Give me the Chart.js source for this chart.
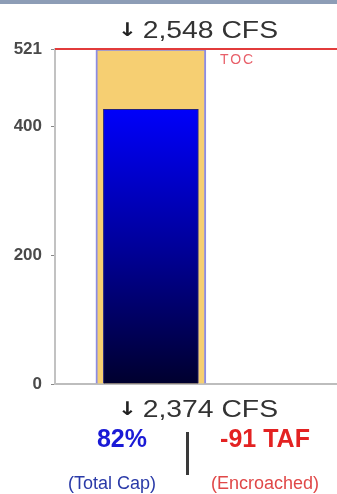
<!DOCTYPE html>
<html>
<head>
<meta charset="utf-8">
<script src="https://cdn.jsdelivr.net/npm/chart.js@4.4.1/dist/chart.umd.min.js"></script>
<style>
  html, body { margin: 0; padding: 0; background: #fff; }
  #wrap { position: relative; width: 337px; height: 494px; overflow: hidden; font-family: "Liberation Sans", Arial, sans-serif; }
  #topbar { position: absolute; left: 0; top: 0; width: 337px; height: 4px; background: #8d9db6; }
  #chartBox { position: absolute; left: 0; top: 0; width: 337px; height: 494px; }
  .flow { position: absolute; width: 300px; text-align: center; color: #333; font-size: 24px; white-space: nowrap; transform: scaleX(1.18); transform-origin: center; }
  .flow .arr { font-family: "DejaVu Sans", sans-serif; font-size: 19px; font-weight: bold; vertical-align: 2px; margin-right: 5px; color: #222; }
  .big { position: absolute; font-weight: bold; font-size: 25px; text-align: center; width: 140px; white-space: nowrap; }
  .small { position: absolute; font-size: 18px; text-align: center; width: 140px; white-space: nowrap; }
  #sep { position: absolute; left: 186px; top: 432px; width: 3px; height: 43px; background: #3a3a3a; }
</style>
</head>
<body>
<div id="wrap">
  <div id="chartBox"><canvas id="resChart"></canvas></div>
  <div id="topbar"></div>
  <div class="flow" id="flowTop" style="left:48px; top:16px;"></div>
  <div class="flow" id="flowBottom" style="left:48px; top:395px;"></div>
  <div class="big" id="pctCap" style="left:52px; top:424px; color:#1a1ad6;"></div>
  <div class="big" id="encroach" style="left:195px; top:424px; color:#e32222;"></div>
  <div id="sep"></div>
  <div class="small" id="pctLabel" style="left:42px; top:473px; color:#2a3aa8;"></div>
  <div class="small" id="encLabel" style="left:195px; top:473px; color:#e04848;"></div>
</div>
<script>
// ------------------------------
// Reservoir data
// ------------------------------
const capacity = [521];          // TAF, top of the yellow bar
const storage = [427];           // TAF, blue bar
const tocValue = 521;            // top of conservation line
const yTicks = [0, 200, 400, 521];
const inflowCfs = "2,548 CFS";
const outflowCfs = "2,374 CFS";
const pctLabel = "82%";
const pctCaption = "(Total Cap)";
const encroachLabel = "-91 TAF";
const encroachCaption = "(Encroached)";
const tocLabel = "TOC";

// bar sits left of centre on a 0..1 x scale
const BAR_POS = 0.34;
const OUTER_W = 110;

document.getElementById("flowTop").innerHTML = '<span class="arr">&#8595;</span>' + inflowCfs;
document.getElementById("flowBottom").innerHTML = '<span class="arr">&#8595;</span>' + outflowCfs;
document.getElementById("pctCap").textContent = pctLabel;
document.getElementById("pctLabel").textContent = pctCaption;
document.getElementById("encroach").textContent = encroachLabel;
document.getElementById("encLabel").textContent = encroachCaption;

// ------------------------------
// TOC line + label plugin
// ------------------------------
const tocPlugin = {
  id: "tocLine",
  afterDatasetsDraw(chart) {
    const { ctx, chartArea, scales } = chart;
    const y = scales.y.getPixelForValue(tocValue);
    ctx.save();
    ctx.strokeStyle = "#e23b3b";
    ctx.lineWidth = 2;
    ctx.beginPath();
    ctx.moveTo(chartArea.left, y);
    ctx.lineTo(chartArea.right, y);
    ctx.stroke();
    const barRight = scales.x.getPixelForValue(BAR_POS) + OUTER_W / 2;
    ctx.fillStyle = "#e8606a";
    ctx.font = "14px 'Liberation Sans', Arial, sans-serif";
    ctx.textBaseline = "top";
    ctx.letterSpacing = "2px";
    ctx.fillText(tocLabel, barRight + 14, y + 4);
    ctx.restore();
  }
};

function storageFill(context) {
  const chart = context.chart;
  const area = chart.chartArea;
  if (!area) return "#0000ff";
  const top = chart.scales.y.getPixelForValue(storage[0]);
  const g = chart.ctx.createLinearGradient(0, top, 0, area.bottom);
  g.addColorStop(0, "#0000fa");
  g.addColorStop(0.5, "#00009a");
  g.addColorStop(1, "#00002e");
  return g;
}

new Chart(document.getElementById("resChart"), {
  type: "bar",
  data: {
    datasets: [
      {
        label: "Storage",
        data: storage.map(v => ({ x: BAR_POS, y: v })),
        backgroundColor: storageFill,
        borderColor: "#23237a",
        borderWidth: 1,
        barThickness: 95,
        grouped: false,
        order: 1
      },
      {
        label: "Capacity",
        data: capacity.map(v => ({ x: BAR_POS, y: v })),
        backgroundColor: "#f6cf72",
        borderColor: "#8c8ce4",
        borderWidth: 2,
        barThickness: OUTER_W,
        grouped: false,
        order: 2
      }
    ]
  },
  options: {
    responsive: true,
    maintainAspectRatio: false,
    animation: false,
    layout: { padding: { top: 49, bottom: 102, left: 0, right: 0 } },
    plugins: { legend: { display: false }, tooltip: { enabled: false } },
    scales: {
      x: {
        type: "linear",
        min: 0,
        max: 1,
        offset: false,
        grid: { display: false },
        ticks: { display: false },
        border: { display: true, color: "#bdbdbd", width: 2 }
      },
      y: {
        min: 0,
        max: 521,
        afterBuildTicks: (scale) => { scale.ticks = yTicks.map(v => ({ value: v })); },
        afterFit: (scale) => { scale.width = 55; },
        grid: { drawOnChartArea: false, tickLength: 4, color: "#888" },
        border: { display: true, color: "#c2c2c2", width: 2 },
        ticks: {
          padding: 9,
          color: "#4a4a4a",
          font: { family: "'Liberation Sans', Arial, sans-serif", size: 17, weight: "bold" }
        }
      }
    }
  },
  plugins: [tocPlugin]
});
</script>
</body>
</html>
